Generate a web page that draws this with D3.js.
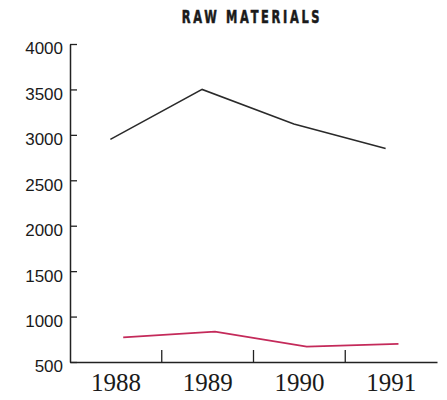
<!DOCTYPE html>
<html lang="en">
<head>
    <meta charset="UTF-8">
    <title>Raw Materials</title>
    <style>
        body { margin: 0; background: #fff; }
    </style>
</head>
<body>
    <div id="chart"></div>

    <script src="https://d3js.org/d3.v7.min.js"></script>
    <script>
        var years = ["1988", "1989", "1990", "1991"];
        var upperSeries = [2950, 3500, 3120, 2850];
        var lowerSeries = [770, 835, 670, 700];
        var yTicks = [500, 1000, 1500, 2000, 2500, 3000, 3500, 4000];

        var width = 447, height = 400;
        var margin = { top: 44, right: 10, bottom: 38, left: 70 };

        var svg = d3.select("#chart")
            .append("svg")
                .attr("width", width)
                .attr("height", height);

        var xScale = d3.scaleBand()
            .domain(years)
            .range([margin.left, width - margin.right])
            .padding(0);

        var yScale = d3.scaleLinear()
            .domain([500, 4000])
            .range([height - margin.bottom, margin.top]);

        // title - heavy, narrow letters spaced apart
        svg.append("text")
            .attr("transform", "translate(252,23) scale(0.67,1)")
            .attr("text-anchor", "middle")
            .style("font-family", "DejaVu Sans")
            .style("font-weight", "bold")
            .style("font-size", "17px")
            .style("letter-spacing", "4px")
            .style("fill", "#1a1a1a")
            .style("stroke", "#1a1a1a")
            .style("stroke-width", 0.6)
            .text("RAW MATERIALS");

        // y axis, ticks pointing inward
        var yAxis = d3.axisLeft(yScale)
            .tickValues(yTicks)
            .tickSizeInner(-7)
            .tickSizeOuter(0)
            .tickPadding(7)
            .tickFormat(d3.format("d"));

        var yGuide = svg.append("g")
            .attr("transform", "translate(" + margin.left + ",0)")
            .call(yAxis);
        yGuide.select(".domain").style("stroke", "#222").style("stroke-width", 1.5);
        yGuide.selectAll("line").style("stroke", "#222").style("stroke-width", 1.3);
        yGuide.selectAll("text")
            .attr("dy", "0.58em")
            .style("font-family", "Liberation Sans")
            .style("font-size", "17px")
            .style("fill", "#1a1a1a");

        // x axis with year labels centred in bands
        var xAxis = d3.axisBottom(xScale)
            .tickSize(0)
            .tickPadding(11);

        var xGuide = svg.append("g")
            .attr("transform", "translate(0," + (height - margin.bottom) + ")")
            .call(xAxis);
        xGuide.select(".domain").style("stroke", "#222").style("stroke-width", 1.5);
        xGuide.selectAll("text")
            .style("font-family", "Liberation Serif")
            .style("font-size", "25px")
            .style("fill", "#1a1a1a");

        // separators between the years
        svg.append("g")
            .selectAll("line")
            .data(years.slice(0, -1))
            .enter()
            .append("line")
                .attr("x1", function(d){ return xScale(d) + xScale.bandwidth(); })
                .attr("x2", function(d){ return xScale(d) + xScale.bandwidth(); })
                .attr("y1", height - margin.bottom)
                .attr("y2", height - margin.bottom - 12)
                .style("stroke", "#222")
                .style("stroke-width", 1.3);

        function drawLine(values, offset, color, w) {
            var line = d3.line()
                .x(function(d, i){ return xScale(years[i]) + xScale.bandwidth() * offset; })
                .y(function(d){ return yScale(d); });
            svg.append("path")
                .datum(values)
                .attr("d", line)
                .style("fill", "none")
                .style("stroke", color)
                .style("stroke-width", w);
        }

        drawLine(upperSeries, 0.44, "#2a2a2a", 1.5);
        drawLine(lowerSeries, 0.58, "#c42a5a", 1.8);
    </script>
</body>
</html>
